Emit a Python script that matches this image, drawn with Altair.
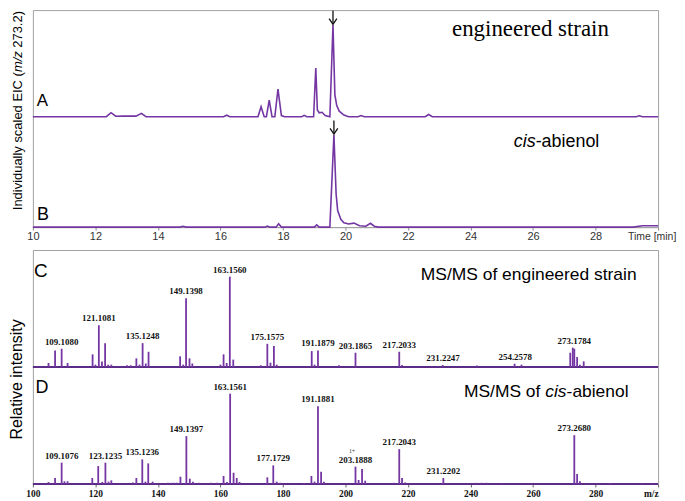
import altair as alt
import pandas as pd

# ---------------- Chromatograms (EIC m/z 273.2), retention time [min] vs individually scaled intensity
A_time = [10.0, 12.35, 12.5, 12.65, 12.9, 13.3, 13.47, 13.62, 16.1, 16.2, 16.3, 17.2, 17.3, 17.4, 17.47,
          17.56, 17.65, 17.74, 17.84, 17.95, 18.05, 18.6, 18.68, 18.76, 18.98, 19.05, 19.1, 19.16, 19.25,
          19.35, 19.5, 19.6, 19.66, 19.72, 19.8, 19.95, 20.1, 20.4, 20.5, 20.6, 22.55, 22.66, 22.78, 29.3,
          29.4, 29.5, 30.0]
A_int = [0.0, 0.0, 0.036, 0.004, 0.005, 0.005, 0.03, 0.0, 0.0, 0.013, 0.0, 0.0, 0.09, 0.0, 0.0,
         0.15, 0.0, 0.0, 0.25, 0.01, 0.0, 0.0, 0.012, 0.0, 0.0, 0.44, 0.06, 0.035, 0.04,
         0.01, 0.0, 0.83, 0.2, 0.1, 0.05, 0.015, 0.0, 0.0, 0.01, 0.0, 0.0, 0.02, 0.0, 0.0,
         0.008, 0.0, 0.0]

B_time = [10.0, 14.7, 14.8, 14.9, 17.42, 17.5, 17.58, 17.78, 17.86, 17.95, 19.0, 19.08, 19.16, 19.5,
          19.63, 19.7, 19.75, 19.85, 19.95, 20.1, 20.27, 20.45, 20.65, 20.8, 20.92, 21.05, 29.2, 29.5, 30.0]
B_int = [0.0, 0.0, 0.008, 0.0, 0.0, 0.01, 0.0, 0.0, 0.03, 0.0, 0.0, 0.02, 0.0, 0.0,
         0.836, 0.3, 0.15, 0.07, 0.04, 0.028, 0.036, 0.012, 0.008, 0.035, 0.008, 0.0, 0.0, 0.012, 0.013]

# ---------------- MS/MS spectra (m/z vs relative intensity)
C_mz = [105.0, 107.1, 109.2, 111.1, 119.1, 120.0, 121.1, 122.1, 123.1, 124.1, 125.1, 130.1, 131.3, 133.1,
        134.1, 135.1, 136.1, 137.0, 147.1, 148.1, 149.0, 150.1, 151.0, 160.0, 161.0, 162.0, 163.0, 164.1,
        172.9, 175.0, 176.0, 177.1, 178.0, 189.2, 190.1, 191.2, 197.9, 203.2, 217.2, 218.1, 231.1, 242.1,
        254.1, 256.3, 271.9, 272.7, 273.2, 274.1, 275.0, 276.2]
C_int = [0.034, 0.142, 0.156, 0.034, 0.108, 0.02, 0.357, 0.048, 0.204, 0.02, 0.02, 0.015, 0.015, 0.074,
         0.02, 0.204, 0.03, 0.13, 0.091, 0.02, 0.587, 0.074, 0.03, 0.02, 0.108, 0.034, 0.772, 0.063,
         0.015, 0.198, 0.037, 0.179, 0.02, 0.136, 0.02, 0.142, 0.015, 0.122, 0.13, 0.017, 0.017, 0.013,
         0.028, 0.02, 0.122, 0.165, 0.156, 0.085, 0.02, 0.048]
C_label_mz = [109.2, 121.1, 135.1, 149.0, 163.0, 175.0, 191.2, 203.2, 217.2, 231.2, 254.3, 273.2]
C_label_int = [0.156, 0.357, 0.204, 0.587, 0.772, 0.198, 0.142, 0.122, 0.13, 0.017, 0.028, 0.165]
C_label_txt = ["109.1080", "121.1081", "135.1248", "149.1398", "163.1560", "175.1575", "191.1879",
               "203.1865", "217.2033", "231.2247", "254.2578", "273.1784"]

D_mz = [105.0, 107.1, 109.2, 110.1, 111.1, 119.0, 120.9, 122.2, 123.2, 124.2, 125.1, 132.0, 133.1, 135.0,
        136.0, 136.9, 138.3, 143.2, 144.3, 145.1, 146.1, 147.2, 149.1, 150.2, 151.2, 153.3, 157.0, 158.9,
        161.0, 162.1, 163.1, 164.2, 165.2, 166.1, 175.0, 176.9, 178.0, 179.1, 186.7, 189.1, 190.1, 191.2,
        192.2, 193.1, 203.2, 204.2, 205.3, 206.3, 215.4, 217.2, 218.1, 219.1, 231.3, 241.9, 243.5, 245.1,
        249.9, 273.2, 274.1, 275.0, 284.4, 284.9, 295.0, 298.2]
D_int = [0.017, 0.051, 0.182, 0.023, 0.023, 0.051, 0.153, 0.017, 0.182, 0.02, 0.031, 0.013, 0.051, 0.21,
         0.02, 0.176, 0.02, 0.01, 0.01, 0.01, 0.01, 0.062, 0.409, 0.045, 0.02, 0.01, 0.01, 0.01,
         0.068, 0.017, 0.772, 0.096, 0.051, 0.017, 0.057, 0.159, 0.02, 0.01, 0.008, 0.068, 0.02, 0.664,
         0.105, 0.02, 0.148, 0.034, 0.128, 0.028, 0.01, 0.298, 0.051, 0.013, 0.051, 0.01, 0.01, 0.01,
         0.008, 0.417, 0.085, 0.023, 0.008, 0.008, 0.008, 0.008]
D_label_mz = [109.2, 123.2, 135.0, 149.1, 163.1, 176.9, 191.2, 203.2, 217.2, 231.3, 273.2]
D_label_int = [0.182, 0.182, 0.21, 0.409, 0.772, 0.159, 0.664, 0.148, 0.298, 0.051, 0.417]
D_label_txt = ["109.1076", "123.1235", "135.1236", "149.1397", "163.1561", "177.1729", "191.1881",
               "203.1888", "217.2043", "231.2202", "273.2680"]

PURPLE = "#7436a3"
DARK = "#5b2d86"
W = 628
H_TOP = 218
H_BOT = 235
SANS = "Liberation Sans"
SERIF = "Liberation Serif"


def label(s, x, y, size, font=SANS, style="normal", weight="normal", align="left",
          baseline="alphabetic", angle=0, color="#000000"):
    return alt.Chart(pd.DataFrame({"s": [s]})).mark_text(
        font=font, fontSize=size, fontStyle=style, fontWeight=weight, align=align,
        baseline=baseline, angle=angle, color=color
    ).encode(x=alt.value(x), y=alt.value(y), text="s:N")


# ---------------- top section (A + B)
xs_top = alt.Scale(domain=[10, 30], nice=False, zero=False)
ys_top = alt.Scale(domain=[0, 1.965], nice=False, zero=False)
x_top = alt.X("t:Q", scale=xs_top, axis=alt.Axis(
    values=list(range(10, 31)),
    labelExpr="(datum.value % 2 == 0 && datum.value < 30) ? datum.label : ''",
    title=None, grid=False, tickSize=3, tickColor="#888888", domainColor="#a0a0a0",
    labelFont=SANS, labelFontSize=11, labelColor="#333333", labelPadding=0,
    labelOverlap=False, labelFlush=False))

dfA = pd.DataFrame({"t": A_time, "y": [v + 1.0 for v in A_int]})
dfB = pd.DataFrame({"t": B_time, "y": B_int})
lineA = alt.Chart(dfA).mark_line(color=PURPLE, strokeWidth=1.6).encode(
    x=x_top, y=alt.Y("y:Q", scale=ys_top, axis=None))
lineB = alt.Chart(dfB).mark_line(color=PURPLE, strokeWidth=1.6).encode(
    x=x_top, y=alt.Y("y:Q", scale=ys_top, axis=None))

iA = A_int.index(max(A_int))
iB = B_int.index(max(B_int))
arr = pd.DataFrame({"t": [A_time[iA], B_time[iB]],
                    "y0": [A_int[iA] + 1.0 + 0.006, B_int[iB] + 0.006],
                    "y1": [A_int[iA] + 1.0 + 0.13, B_int[iB] + 0.13]})
arrow_rule = alt.Chart(arr).mark_rule(color="#111111", strokeWidth=1.3).encode(
    x=alt.X("t:Q", scale=xs_top), y=alt.Y("y0:Q", scale=ys_top, axis=None), y2="y1:Q")
arrow_head = alt.Chart(arr).mark_point(shape="M-1,-1.5L0,0L1,-1.5", size=60, filled=False,
                                       strokeWidth=1.3, color="#111111", opacity=1).encode(
    x=alt.X("t:Q", scale=xs_top), y=alt.Y("y0:Q", scale=ys_top, axis=None))

top = alt.layer(
    lineA, lineB, arrow_rule, arrow_head,
    label("A", 9.5, 91, 17, align="center", baseline="middle"),
    label("B", 10, 206, 18, align="center", baseline="middle"),
    label("engineered strain", 421, 26, 23, font=SERIF),
    label("cis", 483, 138, 18, style="italic"),
    label("-abienol", 505, 138, 18),
    label("Individually scaled EIC (", -15, 201, 13, align="left", baseline="middle", angle=270),
    label("m/z", -15, 62.3, 13, style="italic", align="left", baseline="middle", angle=270),
    label("273.2)", -15, 37.8, 13, align="left", baseline="middle", angle=270),
    label("Time [min]", 622, 228, 10.5, align="center", baseline="middle", color="#333333"),
).properties(width=W, height=H_TOP)

# ---------------- bottom section (C + D)
xs_bot = alt.Scale(domain=[100, 300], nice=False, zero=False)
ys_bot = alt.Scale(domain=[0, 2.0], nice=False, zero=False)
x_bot = alt.X("mz:Q", scale=xs_bot, axis=alt.Axis(
    values=list(range(100, 301, 10)),
    labelExpr="datum.value == 300 ? 'm/z' : (datum.value % 20 == 0 ? datum.label : '')",
    labelAlign={"condition": {"test": "datum.value == 300", "value": "right"}, "value": "center"},
    title=None, grid=False, tickSize=3, tickColor="#666666", domainColor="#a0a0a0",
    labelFont=SERIF, labelFontWeight="bold", labelFontSize=9.5, labelColor="#111111",
    labelPadding=2, labelOverlap=False, labelFlush=False))

dfC = pd.DataFrame({"mz": C_mz, "y0": 1.0, "y1": [1.0 + v for v in C_int]})
dfD = pd.DataFrame({"mz": D_mz, "y0": 0.0, "y1": D_int})
spec = pd.concat([dfC, dfD], ignore_index=True)
sticks = alt.Chart(spec).mark_rule(color=PURPLE, strokeWidth=1.8).encode(
    x=x_bot, y=alt.Y("y0:Q", scale=ys_bot, axis=None), y2="y1:Q")

base = alt.Chart(pd.DataFrame({"y": [1.0, 0.0]})).mark_rule(color=DARK, strokeWidth=2).encode(
    y=alt.Y("y:Q", scale=ys_bot, axis=None))

dfL = pd.DataFrame({
    "mz": C_label_mz + D_label_mz,
    "y": [1.0 + v for v in C_label_int] + D_label_int,
    "s": C_label_txt + D_label_txt,
})
peak_labels = alt.Chart(dfL).mark_text(font=SERIF, fontWeight="bold", fontSize=9, baseline="bottom",
                                       dy=-2, color="#111111").encode(
    x=alt.X("mz:Q", scale=xs_bot), y=alt.Y("y:Q", scale=ys_bot, axis=None), text="s:N")
plus = alt.Chart(pd.DataFrame({"mz": [202.1], "y": [0.148], "s": ["1+"]})).mark_text(
    font=SERIF, fontSize=6, baseline="bottom", dy=-13, color="#333333").encode(
    x=alt.X("mz:Q", scale=xs_bot), y=alt.Y("y:Q", scale=ys_bot, axis=None), text="s:N")

bottom = alt.layer(
    base, sticks, peak_labels, plus,
    label("C", 8, 21, 19, align="center", baseline="middle"),
    label("D", 9, 139, 18, align="center", baseline="middle"),
    label("MS/MS of engineered strain", 389.7, 30, 17.5),
    label("MS/MS of", 433, 148, 17.5),
    label("cis", 514.7, 148, 17.5, style="italic"),
    label("-abienol", 536.1, 148, 17.5),
    label("Relative intensity", -16, 130, 16, align="center", baseline="middle", angle=270),
).properties(width=W, height=H_BOT)

chart = alt.vconcat(top, bottom, spacing=23, bounds="flush").properties(
    padding=0
).configure_view(stroke="#a0a0a0", strokeWidth=1)

chart.save("out.html", embed_options={"renderer": "svg", "actions": False})
